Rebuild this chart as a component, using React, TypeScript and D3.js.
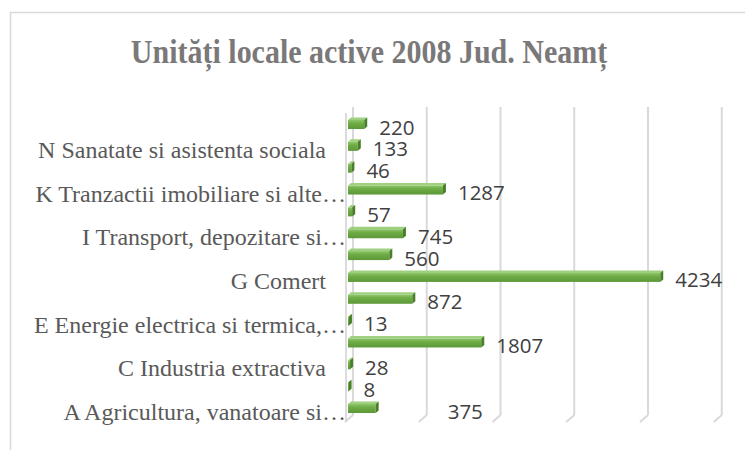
import React from "react";
import * as d3 from "d3";

const categories = [
  "A Agricultura, vanatoare si…",
  "B",
  "C Industria extractiva",
  "D",
  "E Energie electrica si termica,…",
  "F",
  "G Comert",
  "H",
  "I Transport, depozitare si…",
  "J",
  "K Tranzactii imobiliare si alte…",
  "M",
  "N Sanatate si asistenta sociala",
  "O",
];
const categoryKeys = ["A", "B", "C", "D", "E", "F", "G", "H", "I", "J", "K", "M", "N", "O"];
const values = [375, 8, 28, 1807, 13, 872, 4234, 560, 745, 57, 1287, 46, 133, 220];
const gridTicks = [0, 1000, 2000, 3000, 4000, 5000];
const title = "Unități locale active 2008 Jud. Neamț";

export default function App() {
  const W = 745;
  const H = 450;
  const x = d3.scaleLinear().domain([0, 5000]).range([348, 348 + 5 * 73.75]);
  const xBack = d3.scaleLinear().domain([0, 5000]).range([353, 353 + 5 * 73.75]);
  const y = d3.scalePoint<string>().domain(categoryKeys).range([408, 124]);

  const gridTop = 107;
  const gridBottom = 415;
  const manualLabelShift: Record<string, number> = { A: 57 };

  return (
    <svg
      width={W}
      height={H}
      style={{ position: "absolute", left: 0, top: 0, background: "#fff" }}
    >
      <defs>
        <linearGradient id="barFace" x1="0" y1="0" x2="0" y2="1">
          <stop offset="0" stopColor="#8cc76a" />
          <stop offset="0.35" stopColor="#70ad47" />
          <stop offset="1" stopColor="#5b9837" />
        </linearGradient>
      </defs>
      <rect x={10.5} y={12.5} width={800} height={500} fill="#fff" stroke="#d9d9d9" strokeWidth={1.5} />

      <g transform="translate(369,63) scale(1,1.1)">
        <text
          x={0}
          y={0}
          textAnchor="middle"
          fontFamily="'Liberation Serif', 'Times New Roman', serif"
          fontWeight="bold"
          fontSize={30}
          fill="#7a7878"
        >
          {title}
        </text>
      </g>

      {/* back wall gridlines with floor diagonals */}
      {gridTicks.map((t) => {
        const xb = xBack(t);
        return (
          <g key={t} stroke="#d9d9d9" strokeWidth={2} fill="none">
            <line x1={xb} y1={gridTop} x2={xb} y2={gridBottom} />
            <line x1={xb} y1={gridBottom} x2={xb - 8} y2={gridBottom + 7} />
          </g>
        );
      })}
      {/* front axis line */}
      <line x1={346} y1={113} x2={346} y2={422} stroke="#d0d0d0" strokeWidth={1.5} />

      {/* bars */}
      {categoryKeys.map((k, i) => {
        const c = y(k)!;
        const x0 = x(0);
        const x1 = x(values[i]);
        const top = c - 4;
        const bot = c + 5;
        return (
          <g key={k}>
            <polygon
              points={`${x0},${top} ${x1},${top} ${x1 + 3},${top - 2.5} ${x0 + 3},${top - 2.5}`}
              fill="#9fd07f"
            />
            <rect x={x0} y={top} width={Math.max(x1 - x0, 0.8)} height={bot - top} fill="url(#barFace)" />
            <polygon
              points={`${x1},${top} ${x1 + 3},${top - 2.5} ${x1 + 3},${bot - 2.5} ${x1},${bot}`}
              fill="#4a7f2a"
            />
          </g>
        );
      })}

      {/* value labels */}
      {categoryKeys.map((k, i) => {
        const c = y(k)!;
        const lx = x(values[i]) + 15 + (manualLabelShift[k] || 0);
        return (
          <text
            key={k}
            x={lx}
            y={c + 2.5}
            dominantBaseline="central"
            fontFamily="'Open Sans', 'Noto Sans', sans-serif"
            fontSize={20.5}
            fill="#404040"
          >
            {values[i]}
          </text>
        );
      })}

      {/* category labels (every other one shown) */}
      {categoryKeys.map((k, i) => {
        if (i % 2 !== 0) return null;
        const c = y(k)!;
        const truncated = categories[i].endsWith("…");
        return (
          <text
            key={k}
            x={truncated ? 346 : 326}
            y={c + 4}
            dominantBaseline="central"
            textAnchor="end"
            fontFamily="'Liberation Serif', 'Times New Roman', serif"
            fontSize={24}
            fill="#595959"
          >
            {categories[i]}
          </text>
        );
      })}
    </svg>
  );
}
